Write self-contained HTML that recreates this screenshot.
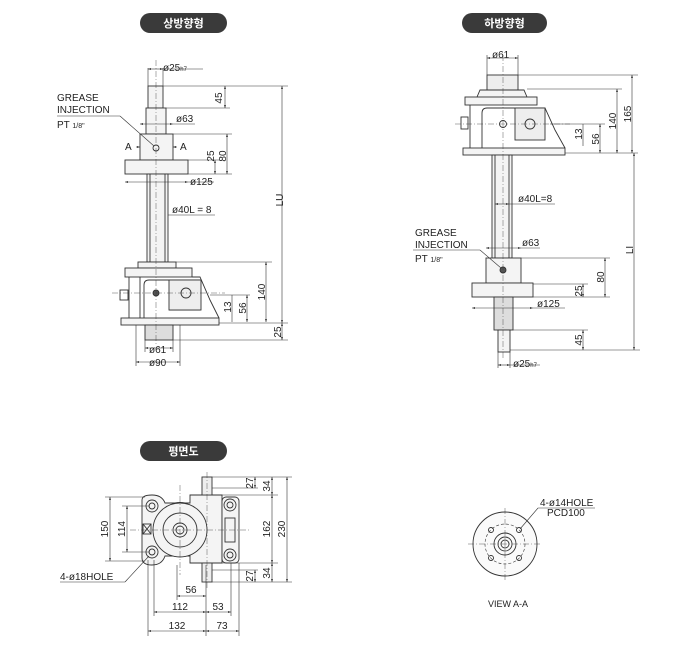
<!DOCTYPE html>
<html><head><meta charset="utf-8"><style>
html,body{margin:0;padding:0;background:#fff;}
svg{display:block;}
text{font-family:"Liberation Sans","NanumGothic",sans-serif;fill:#222;}
.t{font-size:10px;}
.w{font-size:11px;font-weight:bold;fill:#fff;font-family:"Liberation Sans","Noto Sans CJK KR","NanumGothic",sans-serif;}
</style></head><body>
<svg width="680" height="660" viewBox="0 0 680 660" xmlns="http://www.w3.org/2000/svg">
<defs>
<marker id="a" viewBox="0 0 6 6" refX="6" refY="3" markerWidth="5" markerHeight="5" orient="auto-start-reverse"><path d="M0,1 L6,3 L0,5z" fill="#333"/></marker>
</defs>
<!-- pills -->
<rect x="140" y="13" width="87" height="20" rx="10" fill="#3a3a3a"/>
<text x="183.5" y="27" text-anchor="middle" class="w">상방향형</text>
<rect x="462" y="13" width="85" height="20" rx="10" fill="#3a3a3a"/>
<text x="504.5" y="27" text-anchor="middle" class="w">하방향형</text>
<rect x="140" y="441" width="87" height="20" rx="10" fill="#3a3a3a"/>
<text x="183.5" y="455" text-anchor="middle" class="w">평면도</text>

<g fill="none" stroke="#333" stroke-width="0.9">
<!-- ===== LEFT ===== -->
<rect x="148" y="86" width="15" height="22" fill="#f4f4f4"/>
<rect x="146" y="108" width="20" height="26" fill="#f4f4f4"/>
<rect x="140" y="134" width="33" height="26" fill="#f4f4f4"/>
<rect x="125" y="160" width="63" height="14" fill="#f4f4f4"/>
<rect x="147" y="174" width="21" height="88" fill="#f4f4f4"/>
<line x1="150" y1="174" x2="150" y2="262"/><line x1="165" y1="174" x2="165" y2="262"/>
<circle cx="156" cy="148" r="3"/>
<rect x="138" y="262" width="38" height="6" fill="#f4f4f4"/>
<rect x="125" y="268" width="67" height="9" fill="#f4f4f4"/>
<path d="M129,277 V318 M140,277 V318 M192,277 L200,277 L210,300 L219,318" />
<path d="M144,318 V285 Q144,280 149,280 H200 V310 H169" />
<rect x="169" y="280" width="32" height="30" fill="#eee"/>
<circle cx="186" cy="293" r="5"/>
<rect x="121" y="318" width="98" height="7" fill="#f4f4f4"/>
<rect x="120" y="290" width="8" height="10"/>
<circle cx="156" cy="293" r="3" fill="#555"/>
<rect x="145" y="325" width="28" height="15" fill="#ddd"/>
<!-- left dims -->
<g stroke-width="0.6">
<line x1="148" y1="68" x2="148" y2="86"/><line x1="163" y1="68" x2="163" y2="86"/>
<line x1="148" y1="69" x2="163" y2="69" marker-start="url(#a)" marker-end="url(#a)"/><line x1="163" y1="69" x2="203" y2="69"/>
<line x1="163" y1="86" x2="288" y2="86"/><line x1="166" y1="108" x2="230" y2="108"/>
<line x1="225" y1="86" x2="225" y2="108" marker-start="url(#a)" marker-end="url(#a)"/>
<line x1="140" y1="124" x2="173" y2="124" marker-start="url(#a)" marker-end="url(#a)"/><line x1="173" y1="124" x2="195" y2="124"/>
<line x1="173" y1="134" x2="232" y2="134"/><line x1="188" y1="160" x2="220" y2="160"/><line x1="188" y1="174" x2="232" y2="174"/>
<line x1="215" y1="160" x2="215" y2="174" marker-start="url(#a)" marker-end="url(#a)"/>
<line x1="227" y1="134" x2="227" y2="174" marker-start="url(#a)" marker-end="url(#a)"/>
<line x1="125" y1="182" x2="188" y2="182" marker-start="url(#a)" marker-end="url(#a)"/><line x1="188" y1="182" x2="214" y2="182"/>
<line x1="168" y1="215" x2="215" y2="215"/>
<line x1="282" y1="86" x2="282" y2="323" marker-start="url(#a)" marker-end="url(#a)"/>
<line x1="176" y1="262" x2="272" y2="262"/>
<line x1="266" y1="262" x2="266" y2="322" marker-start="url(#a)" marker-end="url(#a)"/>
<line x1="210" y1="295" x2="250" y2="295"/>
<line x1="232" y1="295" x2="232" y2="322"/><line x1="247" y1="295" x2="247" y2="322" marker-start="url(#a)" marker-end="url(#a)"/>
<line x1="219" y1="323" x2="288" y2="323"/><line x1="173" y1="340" x2="288" y2="340"/>
<line x1="282" y1="323" x2="282" y2="340" marker-start="url(#a)" marker-end="url(#a)"/>
<line x1="145" y1="340" x2="145" y2="352"/><line x1="173" y1="340" x2="173" y2="352"/>
<line x1="145" y1="348" x2="173" y2="348" marker-start="url(#a)" marker-end="url(#a)"/>
<line x1="136" y1="325" x2="136" y2="366"/><line x1="180" y1="325" x2="180" y2="366"/>
<line x1="136" y1="362" x2="180" y2="362" marker-start="url(#a)" marker-end="url(#a)"/>
<line x1="57" y1="116" x2="120" y2="116"/><line x1="120" y1="116" x2="154" y2="146"/>
<line x1="136" y1="147" x2="140" y2="147" marker-end="url(#a)"/><line x1="177" y1="147" x2="173" y2="147" marker-end="url(#a)"/>
</g>
<g stroke-width="0.4" stroke-dasharray="6,2,1,2"><line x1="156" y1="60" x2="156" y2="345"/><line x1="112" y1="293" x2="225" y2="293"/></g>

<!-- ===== RIGHT ===== -->
<rect x="487" y="75" width="31" height="15" fill="#eee"/>
<path d="M477,97 L480,90 H524 L527,97" fill="#f4f4f4"/>
<rect x="465" y="97" width="72" height="8" fill="#f4f4f4"/>
<path d="M470,105 V148 M482,148 V113 Q482,108 487,108 H537 L545,108 L555,130 L565,148"/>
<rect x="515" y="108" width="30" height="32" fill="#eee"/>
<circle cx="530" cy="124" r="5"/>
<circle cx="503" cy="124" r="3.5"/>
<rect x="461" y="117" width="7" height="12"/>
<rect x="463" y="148" width="102" height="7" fill="#f4f4f4"/>
<rect x="492" y="155" width="20" height="103" fill="#f4f4f4"/>
<line x1="495" y1="155" x2="495" y2="258"/><line x1="509" y1="155" x2="509" y2="258"/>
<rect x="486" y="258" width="35" height="25" fill="#f4f4f4"/>
<circle cx="503" cy="270" r="3" fill="#555"/>
<rect x="472" y="283" width="61" height="14" fill="#f4f4f4"/>
<rect x="494" y="297" width="19" height="33" fill="#ddd"/>
<rect x="498" y="330" width="12" height="22" fill="#f4f4f4"/>
<g stroke-width="0.6">
<line x1="487" y1="55" x2="487" y2="75"/><line x1="518" y1="55" x2="518" y2="75"/>
<line x1="487" y1="58" x2="518" y2="58" marker-start="url(#a)" marker-end="url(#a)"/>
<line x1="518" y1="75" x2="638" y2="75"/><line x1="527" y1="89" x2="622" y2="89"/>
<line x1="632" y1="75" x2="632" y2="153" marker-start="url(#a)" marker-end="url(#a)"/>
<line x1="617" y1="89" x2="617" y2="153" marker-start="url(#a)" marker-end="url(#a)"/>
<line x1="550" y1="124" x2="605" y2="124"/>
<line x1="583" y1="124" x2="583" y2="146"/><line x1="600" y1="124" x2="600" y2="153" marker-start="url(#a)" marker-end="url(#a)"/>
<line x1="565" y1="153" x2="638" y2="153"/>
<line x1="634" y1="153" x2="634" y2="350" marker-start="url(#a)" marker-end="url(#a)"/>
<line x1="495" y1="204" x2="509" y2="204" marker-start="url(#a)" marker-end="url(#a)"/><line x1="509" y1="204" x2="555" y2="204"/>
<line x1="486" y1="248" x2="521" y2="248" marker-start="url(#a)" marker-end="url(#a)"/><line x1="521" y1="248" x2="540" y2="248"/>
<line x1="413" y1="250" x2="480" y2="250"/><line x1="480" y1="250" x2="501" y2="268"/>
<line x1="521" y1="258" x2="610" y2="258"/><line x1="533" y1="284" x2="588" y2="284"/><line x1="533" y1="297" x2="610" y2="297"/>
<line x1="605" y1="258" x2="605" y2="297" marker-start="url(#a)" marker-end="url(#a)"/>
<line x1="583" y1="284" x2="583" y2="297" marker-start="url(#a)" marker-end="url(#a)"/>
<line x1="472" y1="308" x2="533" y2="308" marker-start="url(#a)" marker-end="url(#a)"/><line x1="533" y1="308" x2="565" y2="308"/>
<line x1="513" y1="330" x2="588" y2="330"/><line x1="510" y1="350" x2="640" y2="350"/>
<line x1="583" y1="330" x2="583" y2="350" marker-start="url(#a)" marker-end="url(#a)"/>
<line x1="498" y1="352" x2="498" y2="368"/><line x1="510" y1="352" x2="510" y2="368"/>
<line x1="498" y1="365" x2="510" y2="365" marker-start="url(#a)" marker-end="url(#a)"/><line x1="510" y1="365" x2="540" y2="365"/>
</g>
<g stroke-width="0.4" stroke-dasharray="6,2,1,2"><line x1="503" y1="55" x2="503" y2="360"/><line x1="455" y1="124" x2="570" y2="124"/></g>

<!-- ===== PLAN ===== -->
<path d="M142,500 Q142,495 152,495 Q162,495 165,503 L175,503 Q180,502 185,503 L190,503 V495 H222 V563 H190 V556 L165,556 Q162,565 152,565 Q142,565 142,558 Z" fill="#f4f4f4"/>
<circle cx="180" cy="530" r="27" fill="#f4f4f4"/>
<circle cx="180" cy="530" r="17"/>
<circle cx="180" cy="530" r="7"/><circle cx="180" cy="530" r="4"/>
<circle cx="152" cy="506" r="6"/><circle cx="152" cy="506" r="3"/>
<circle cx="152" cy="552" r="6"/><circle cx="152" cy="552" r="3"/>
<rect x="143" y="524" width="8" height="10"/><path d="M143,524 L151,534 M151,524 L143,534"/>
<rect x="222" y="497" width="17" height="66" rx="4" fill="#f4f4f4"/>
<circle cx="230" cy="505" r="6"/><circle cx="230" cy="505" r="3"/>
<circle cx="230" cy="555" r="6"/><circle cx="230" cy="555" r="3"/>
<rect x="225" y="518" width="10" height="24"/>
<rect x="202" y="477" width="10" height="18" fill="#eee"/>
<rect x="202" y="563" width="10" height="19" fill="#eee"/>
<g stroke-width="0.6">
<line x1="105" y1="497" x2="145" y2="497"/><line x1="105" y1="561" x2="145" y2="561"/>
<line x1="110" y1="497" x2="110" y2="561" marker-start="url(#a)" marker-end="url(#a)"/>
<line x1="122" y1="506" x2="150" y2="506"/><line x1="122" y1="552" x2="150" y2="552"/>
<line x1="127" y1="506" x2="127" y2="552" marker-start="url(#a)" marker-end="url(#a)"/>
<line x1="212" y1="477" x2="292" y2="477"/><line x1="212" y1="488" x2="258" y2="488"/><line x1="222" y1="495" x2="278" y2="495"/>
<line x1="255" y1="477" x2="255" y2="488" marker-start="url(#a)" marker-end="url(#a)"/>
<line x1="272" y1="477" x2="272" y2="495" marker-start="url(#a)" marker-end="url(#a)"/>
<line x1="272" y1="495" x2="272" y2="563" marker-start="url(#a)" marker-end="url(#a)"/>
<line x1="222" y1="563" x2="278" y2="563"/><line x1="212" y1="570" x2="258" y2="570"/><line x1="212" y1="582" x2="292" y2="582"/>
<line x1="255" y1="570" x2="255" y2="582" marker-start="url(#a)" marker-end="url(#a)"/>
<line x1="272" y1="563" x2="272" y2="582" marker-start="url(#a)" marker-end="url(#a)"/>
<line x1="287" y1="477" x2="287" y2="582" marker-start="url(#a)" marker-end="url(#a)"/>
<line x1="177" y1="565" x2="177" y2="600"/><line x1="206" y1="565" x2="206" y2="636"/>
<line x1="154" y1="560" x2="154" y2="616"/><line x1="231" y1="563" x2="231" y2="616"/>
<line x1="148" y1="560" x2="148" y2="636"/><line x1="239" y1="563" x2="239" y2="636"/>
<line x1="177" y1="596" x2="206" y2="596" marker-start="url(#a)" marker-end="url(#a)"/>
<line x1="154" y1="612" x2="206" y2="612" marker-start="url(#a)" marker-end="url(#a)"/>
<line x1="206" y1="612" x2="231" y2="612" marker-start="url(#a)" marker-end="url(#a)"/>
<line x1="148" y1="631" x2="206" y2="631" marker-start="url(#a)" marker-end="url(#a)"/>
<line x1="206" y1="631" x2="239" y2="631" marker-start="url(#a)" marker-end="url(#a)"/>
<line x1="60" y1="582" x2="125" y2="582"/><line x1="125" y1="582" x2="149" y2="556"/>
</g>
<g stroke-width="0.4" stroke-dasharray="6,2,1,2"><line x1="180" y1="485" x2="180" y2="575"/><line x1="207" y1="472" x2="207" y2="590"/><line x1="130" y1="530" x2="250" y2="530"/></g>

<!-- ===== VIEW A-A ===== -->
<circle cx="505" cy="544" r="32" fill="#fafafa"/>
<circle cx="505" cy="544" r="20" stroke-dasharray="3,2" stroke-width="0.6"/>
<circle cx="505" cy="544" r="11"/><circle cx="505" cy="544" r="7"/><circle cx="505" cy="544" r="4"/>
<circle cx="491" cy="530" r="2.5"/><circle cx="519" cy="530" r="2.5"/><circle cx="491" cy="558" r="2.5"/><circle cx="519" cy="558" r="2.5"/>
<g stroke-width="0.6"><line x1="538" y1="508" x2="595" y2="508"/><line x1="538" y1="508" x2="520" y2="529"/></g>
<g stroke-width="0.4" stroke-dasharray="6,2,1,2"><line x1="505" y1="508" x2="505" y2="580"/><line x1="468" y1="544" x2="542" y2="544"/></g>
</g>

<!-- texts -->
<text x="163" y="71" class="t">ø25<tspan font-size="6">h7</tspan></text>
<text x="57" y="101" class="t">GREASE</text><text x="57" y="113" class="t">INJECTION</text>
<text x="57" y="128" class="t">PT <tspan font-size="7">1/8"</tspan></text>
<text x="176" y="122" class="t">ø63</text>
<text x="125" y="150" class="t">A</text><text x="180" y="150" class="t">A</text>
<text x="190" y="185" class="t">ø125</text>
<text x="172" y="213" class="t">ø40L = 8</text>
<text x="149" y="353" class="t">ø61</text>
<text x="149" y="366" class="t">ø90</text>
<g class="t">
<text transform="translate(222,98) rotate(-90)" text-anchor="middle" class="t">45</text>
<text transform="translate(214,156) rotate(-90)" text-anchor="middle" class="t">25</text>
<text transform="translate(226,156) rotate(-90)" text-anchor="middle" class="t">80</text>
<text transform="translate(283,200) rotate(-90)" text-anchor="middle" class="t">LU</text>
<text transform="translate(265,292) rotate(-90)" text-anchor="middle" class="t">140</text>
<text transform="translate(231,307) rotate(-90)" text-anchor="middle" class="t">13</text>
<text transform="translate(246,308) rotate(-90)" text-anchor="middle" class="t">56</text>
<text transform="translate(281,332) rotate(-90)" text-anchor="middle" class="t">25</text>
<text transform="translate(616,121) rotate(-90)" text-anchor="middle" class="t">140</text>
<text transform="translate(631,114) rotate(-90)" text-anchor="middle" class="t">165</text>
<text transform="translate(582,134) rotate(-90)" text-anchor="middle" class="t">13</text>
<text transform="translate(599,139) rotate(-90)" text-anchor="middle" class="t">56</text>
<text transform="translate(633,250) rotate(-90)" text-anchor="middle" class="t">LI</text>
<text transform="translate(604,277) rotate(-90)" text-anchor="middle" class="t">80</text>
<text transform="translate(582,291) rotate(-90)" text-anchor="middle" class="t">25</text>
<text transform="translate(582,340) rotate(-90)" text-anchor="middle" class="t">45</text>
<text transform="translate(108,529) rotate(-90)" text-anchor="middle" class="t">150</text>
<text transform="translate(125,529) rotate(-90)" text-anchor="middle" class="t">114</text>
<text transform="translate(253,483) rotate(-90)" text-anchor="middle" class="t">27</text>
<text transform="translate(270,486) rotate(-90)" text-anchor="middle" class="t">34</text>
<text transform="translate(270,529) rotate(-90)" text-anchor="middle" class="t">162</text>
<text transform="translate(285,529) rotate(-90)" text-anchor="middle" class="t">230</text>
<text transform="translate(253,576) rotate(-90)" text-anchor="middle" class="t">27</text>
<text transform="translate(270,573) rotate(-90)" text-anchor="middle" class="t">34</text>
</g>
<text x="492" y="58" class="t">ø61</text>
<text x="518" y="202" class="t">ø40L=8</text>
<text x="415" y="236" class="t">GREASE</text><text x="415" y="248" class="t">INJECTION</text>
<text x="415" y="262" class="t">PT <tspan font-size="7">1/8"</tspan></text>
<text x="522" y="246" class="t">ø63</text>
<text x="537" y="307" class="t">ø125</text>
<text x="513" y="367" class="t">ø25<tspan font-size="6">h7</tspan></text>
<text x="60" y="580" class="t">4-ø18HOLE</text>
<text x="191" y="593" class="t" text-anchor="middle">56</text>
<text x="180" y="610" class="t" text-anchor="middle">112</text>
<text x="218" y="610" class="t" text-anchor="middle">53</text>
<text x="177" y="629" class="t" text-anchor="middle">132</text>
<text x="222" y="629" class="t" text-anchor="middle">73</text>
<text x="540" y="506" class="t">4-ø14HOLE</text>
<text x="547" y="516" class="t">PCD100</text>
<text x="488" y="607" font-size="9">VIEW A-A</text>
</svg>
</body></html>
